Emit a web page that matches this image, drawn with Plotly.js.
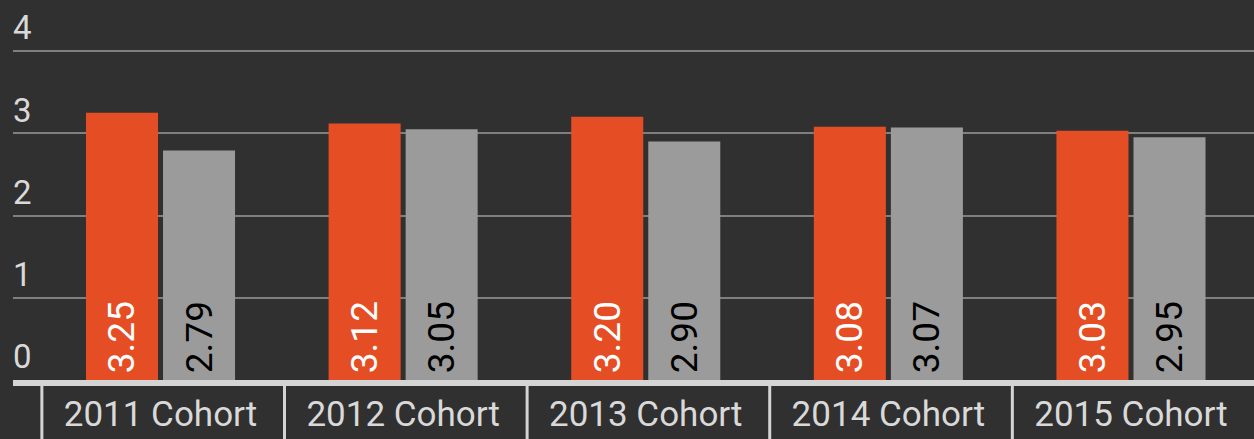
<!DOCTYPE html>
<html>
<head>
<meta charset="utf-8">
<script src="https://cdn.plot.ly/plotly-3.0.1.min.js"></script>
<style>html,body{margin:0;padding:0;background:#303030;}#chart{width:1254px;height:439px;}</style>
</head>
<body>
<div id="chart"></div>
<script>
var categories = ["2011 Cohort", "2012 Cohort", "2013 Cohort", "2014 Cohort", "2015 Cohort"];
var seriesA = [3.25, 3.12, 3.20, 3.08, 3.03];
var seriesB = [2.79, 3.05, 2.90, 3.07, 2.95];
var yTicks = [0, 1, 2, 3, 4];

var idx = categories.map(function(c, i){ return i; });
function fmt(v){ return '\u200A' + v.toFixed(2); }

var traces = [
  {type:'bar', x: idx, y: seriesA, marker:{color:'#e54e24'},
   text: seriesA.map(fmt), texttemplate:'%{text}', textposition:'inside', insidetextanchor:'start',
   textangle:-90, insidetextfont:{family:'Roboto', size:37, color:'#ffffff'}, hoverinfo:'none'},
  {type:'bar', x: idx, y: seriesB, marker:{color:'#9b9b9b'},
   text: seriesB.map(fmt), texttemplate:'%{text}', textposition:'inside', insidetextanchor:'start',
   textangle:-90, insidetextfont:{family:'Roboto', size:37, color:'#000000'}, hoverinfo:'none'}
];

var plotH = 380;
var shapes = [{type:'rect', xref:'paper', x0:0, x1:1, yref:'paper', y0:0, y1:-6/plotH,
  fillcolor:'#d4d4d4', line:{width:0}, layer:'above'}];
for (var i = 0; i < categories.length; i++) {
  shapes.push({type:'line', xref:'x', x0:i-0.5+0.011, x1:i-0.5+0.011, yref:'paper', y0:-5/plotH, y1:-60/plotH,
    line:{color:'#d4d4d4', width:3}, layer:'above'});
}

var layout = {
  width:1254, height:439,
  paper_bgcolor:'#303030', plot_bgcolor:'#303030',
  margin:{l:13, r:0, t:0, b:59},
  barmode:'group', bargap:0.365, bargroupgap:0.065,
  showlegend:false,
  font:{family:'Roboto', color:'#d9d9d9'},
  xaxis:{range:[-0.608, 4.507], tickvals: idx, ticktext: categories, showgrid:false, zeroline:false,
    ticks:'', ticklabelstandoff:10, tickfont:{family:'Roboto', size:35, color:'#d9d9d9'}, fixedrange:true, showline:false},
  yaxis:{range:[0, 4.62], tickvals: yTicks, ticktext: yTicks.map(String), ticklabelposition:'inside top',
    ticklabelstandoff:-3,
    showgrid:true, gridcolor:'#7f7f7f', gridwidth:2, zeroline:false, ticks:'',
    tickfont:{family:'Roboto', size:33, color:'#d9d9d9'}, fixedrange:true},
  shapes: shapes
};
Plotly.newPlot('chart', traces, layout, {displayModeBar:false, staticPlot:true});
</script>
</body>
</html>
